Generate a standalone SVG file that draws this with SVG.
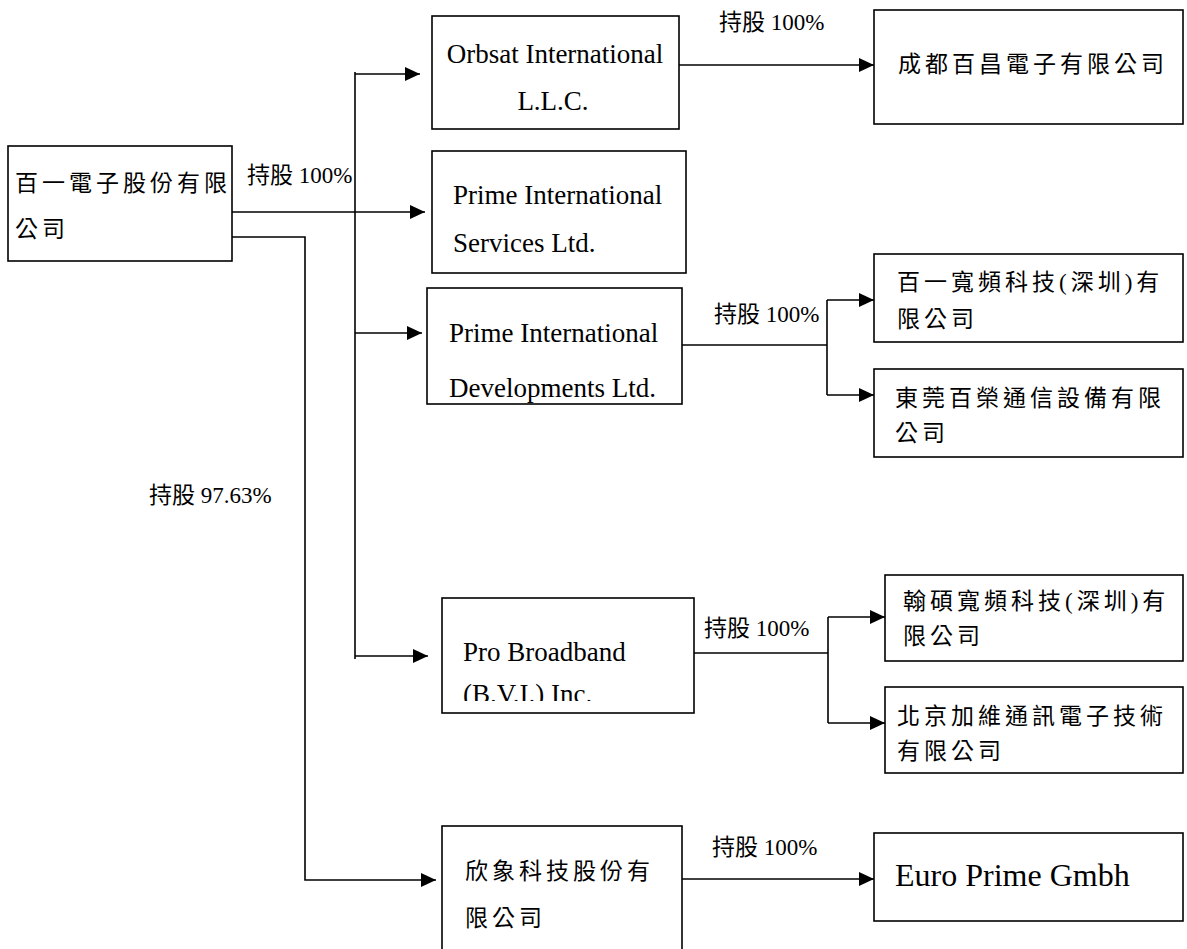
<svg xmlns="http://www.w3.org/2000/svg" width="1187" height="949" viewBox="0 0 1187 949">
<style>
.box{fill:#fff;stroke:#000;stroke-width:1.6}
.ln{fill:none;stroke:#000;stroke-width:1.6}
.lat{font-family:"Liberation Serif","Noto Sans CJK TC",serif;font-size:27px;fill:#000}
.cjk{font-family:"Liberation Serif","Noto Sans CJK TC",serif;font-size:23px;letter-spacing:4px;fill:#000}
.lbl{font-family:"Liberation Serif","Noto Sans CJK TC",serif;font-size:23px;fill:#000}
</style>
<defs>
<marker id="ah" markerUnits="userSpaceOnUse" markerWidth="15" markerHeight="14" refX="15" refY="7" orient="auto"><path d="M0,0 L15,7 L0,14 z" fill="#000"/></marker>
<clipPath id="pbclip"><rect x="442" y="598" width="252" height="103"/></clipPath>
</defs>
<rect x="0" y="0" width="1187" height="949" fill="#fff"/>

<g id="connectors">
<line class="ln" x1="355" y1="72" x2="355" y2="659"/>
<line class="ln" x1="355" y1="74" x2="420" y2="74" marker-end="url(#ah)"/>
<line class="ln" x1="232" y1="212" x2="425" y2="212" marker-end="url(#ah)"/>
<line class="ln" x1="355" y1="333" x2="422" y2="333" marker-end="url(#ah)"/>
<line class="ln" x1="355" y1="656" x2="428" y2="656" marker-end="url(#ah)"/>
<polyline class="ln" points="232,237 305,237 305,880 436,880" marker-end="url(#ah)"/>
<line class="ln" x1="679" y1="65" x2="874" y2="65" marker-end="url(#ah)"/>
<line class="ln" x1="682" y1="345" x2="827" y2="345"/>
<line class="ln" x1="827" y1="300" x2="827" y2="395"/>
<line class="ln" x1="827" y1="300" x2="874" y2="300" marker-end="url(#ah)"/>
<line class="ln" x1="827" y1="395" x2="874" y2="395" marker-end="url(#ah)"/>
<line class="ln" x1="694" y1="653" x2="828" y2="653"/>
<line class="ln" x1="828" y1="617" x2="828" y2="723"/>
<line class="ln" x1="828" y1="617" x2="885" y2="617" marker-end="url(#ah)"/>
<line class="ln" x1="828" y1="723" x2="885" y2="723" marker-end="url(#ah)"/>
<line class="ln" x1="682" y1="879" x2="874" y2="879" marker-end="url(#ah)"/>
<text class="lbl" x="247" y="183">持股 100%</text>
<text class="lbl" x="719" y="30">持股 100%</text>
<text class="lbl" x="714" y="322">持股 100%</text>
<text class="lbl" x="704" y="636">持股 100%</text>
<text class="lbl" x="712" y="855">持股 100%</text>
<text class="lbl" x="149" y="503">持股 97.63%</text>
</g>

<g id="root">
<rect class="box" x="8" y="146" width="224" height="115"/>
<text class="cjk" x="15" y="190.5">百一電子股份有限</text>
<text class="cjk" x="15" y="236.5">公司</text>
</g>

<g id="orbsat">
<rect class="box" x="432" y="16" width="247" height="113"/>
<text class="lat" x="555" y="63" text-anchor="middle">Orbsat International</text>
<text class="lat" x="553" y="110" text-anchor="middle">L.L.C.</text>
</g>

<g id="chengdu">
<rect class="box" x="874" y="10" width="309" height="114"/>
<text class="cjk" x="898" y="71.5">成都百昌電子有限公司</text>
</g>

<g id="pis">
<rect class="box" x="432" y="151" width="254" height="122"/>
<text class="lat" x="453" y="204">Prime International</text>
<text class="lat" x="453" y="252">Services Ltd.</text>
</g>

<g id="pid">
<rect class="box" x="427" y="288" width="255" height="116"/>
<text class="lat" x="449" y="342">Prime International</text>
<text class="lat" x="449" y="397">Developments Ltd.</text>
</g>

<g id="baiyi">
<rect class="box" x="874" y="254" width="309" height="88"/>
<text class="cjk" x="897" y="290">百一寬頻科技(深圳)有</text>
<text class="cjk" x="897" y="326.5">限公司</text>
</g>

<g id="dongguan">
<rect class="box" x="874" y="369" width="309" height="88"/>
<text class="cjk" x="895" y="405.5">東莞百榮通信設備有限</text>
<text class="cjk" x="895" y="440.5">公司</text>
</g>

<g id="pb">
<rect class="box" x="442" y="598" width="252" height="115"/>
<text class="lat" x="463" y="661">Pro Broadband</text>
<text class="lat" x="463" y="703" clip-path="url(#pbclip)">(B.V.I.) Inc.</text>
</g>

<g id="hanshuo">
<rect class="box" x="885" y="575" width="298" height="86"/>
<text class="cjk" x="903" y="608.5">翰碩寬頻科技(深圳)有</text>
<text class="cjk" x="903" y="643.5">限公司</text>
</g>

<g id="beijing">
<rect class="box" x="885" y="687" width="298" height="86"/>
<text class="cjk" x="897" y="723.5">北京加維通訊電子技術</text>
<text class="cjk" x="897" y="758.5">有限公司</text>
</g>

<g id="xinxiang">
<rect class="box" x="442" y="826" width="240" height="140"/>
<text class="cjk" x="465" y="878.5">欣象科技股份有</text>
<text class="cjk" x="465" y="925.5">限公司</text>
</g>

<g id="europrime">
<rect class="box" x="874" y="833" width="309" height="88"/>
<text class="lat" x="895" y="886" style="font-size:32px">Euro Prime Gmbh</text>
</g>
</svg>
